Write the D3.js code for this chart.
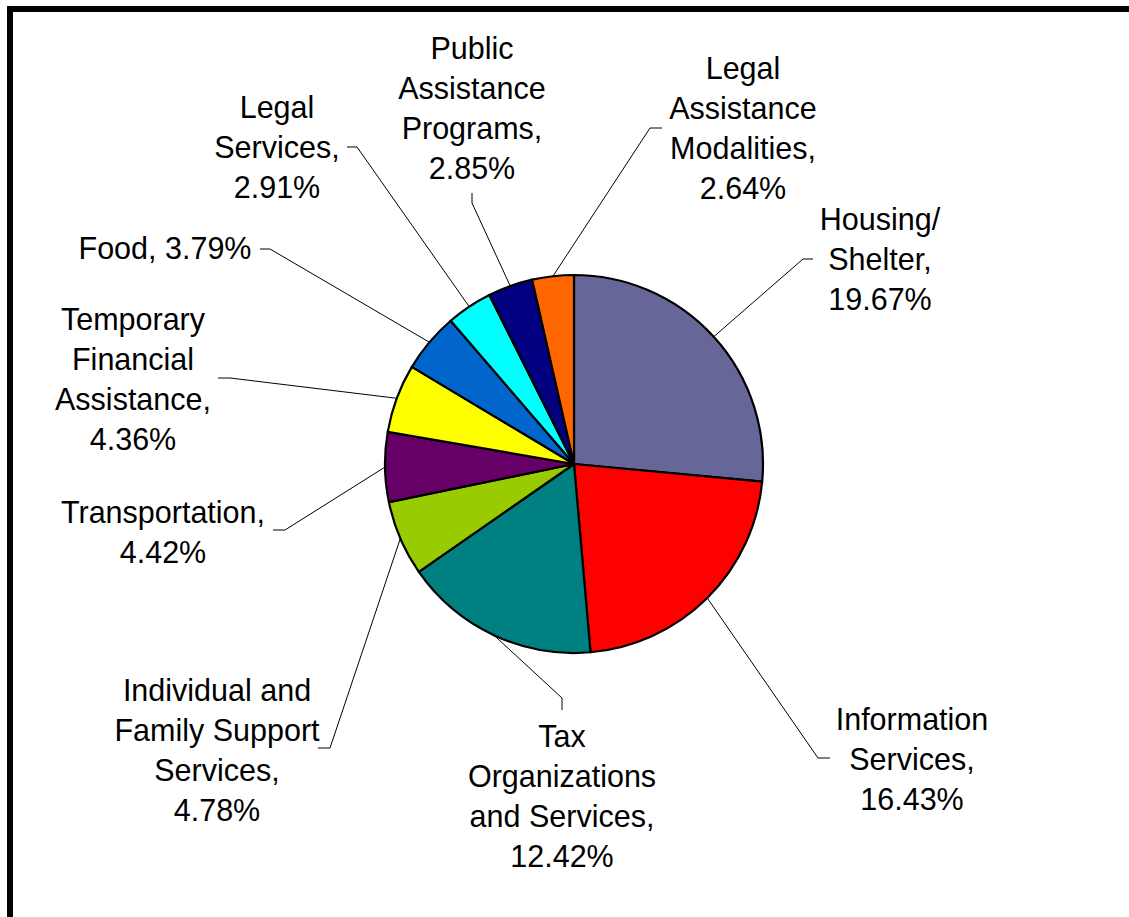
<!DOCTYPE html>
<html>
<head>
<meta charset="utf-8">
<script src="https://cdn.jsdelivr.net/npm/d3@7"></script>
<style>
  html, body { margin: 0; padding: 0; background: #fff; overflow: hidden; }
  text { font-family: "Liberation Sans", Arial, sans-serif; }
</style>
</head>
<body>
<div id="grafico"></div>
<script>
// dados ----------------------------------------------------------------------
const categorias = [
  ["Housing/", "Shelter,"],
  ["Information", "Services,"],
  ["Tax", "Organizations", "and Services,"],
  ["Individual and", "Family Support", "Services,"],
  ["Transportation,"],
  ["Temporary", "Financial", "Assistance,"],
  ["Food, "],
  ["Legal", "Services,"],
  ["Public", "Assistance", "Programs,"],
  ["Legal", "Assistance", "Modalities,"]
];
const valores = [19.67, 16.43, 12.42, 4.78, 4.42, 4.36, 3.79, 2.91, 2.85, 2.64];
const cores = ["#666699", "#ff0000", "#008080", "#99cc00", "#660066",
               "#ffff00", "#0066cc", "#00ffff", "#000080", "#ff6600"];

// layout dos rótulos (posição manual, como no Excel) -------------------------
// cx = centro do texto, y0 = 1a linha de base, ancora = fim da linha guia, fim = traço curto
const rotulos = [
  { cx: 880, y0: 230, ancora: [803, 259], fim: [813, 259] },
  { cx: 912, y0: 730, ancora: [818, 758], fim: [830, 758] },
  { cx: 562, y0: 747, ancora: [562, 698], fim: [562, 710] },
  { cx: 217, y0: 701, ancora: [330, 748], fim: [318, 748] },
  { cx: 163, y0: 523, ancora: [285, 530], fim: [273, 530] },
  { cx: 133, y0: 330, ancora: [230, 378], fim: [218, 378] },
  { cx: 165, y0: 259, ancora: [270, 249], fim: [260, 249], linha: true },
  { cx: 277, y0: 118, ancora: [357, 147], fim: [347, 147] },
  { cx: 472, y0: 59,  ancora: [472, 203], fim: [472, 193] },
  { cx: 743, y0: 79,  ancora: [650, 128], fim: [662, 128] }
];

const largura = 1129, altura = 917;
const centro = [574, 464], raio = 189;
const entrelinha = 40;

const svg = d3.select("#grafico").append("svg")
  .attr("width", largura)
  .attr("height", altura)
  .attr("viewBox", [0, 0, largura, altura]);

// moldura
svg.append("rect")
  .attr("x", 10).attr("y", 9)
  .attr("width", 1300).attr("height", 1100)
  .attr("fill", "none")
  .attr("stroke", "#000")
  .attr("stroke-width", 6);

const pie = d3.pie().sort(null).value(d => d)(valores);
const arco = d3.arc().innerRadius(0).outerRadius(raio);

const g = svg.append("g").attr("transform", `translate(${centro})`);

// fatias
g.selectAll("path")
  .data(pie)
  .join("path")
    .attr("d", arco)
    .attr("fill", (d, i) => cores[i])
    .attr("stroke", "#000")
    .attr("stroke-width", 2.2)
    .attr("stroke-linejoin", "round");

// linhas guia
const pontoBorda = d => {
  const a = (d.startAngle + d.endAngle) / 2;
  return [centro[0] + raio * Math.sin(a), centro[1] - raio * Math.cos(a)];
};

svg.append("g")
  .attr("fill", "none")
  .attr("stroke", "#000")
  .attr("stroke-width", 1)
  .selectAll("path")
  .data(pie)
  .join("path")
    .attr("d", (d, i) => d3.line()([pontoBorda(d), rotulos[i].ancora, rotulos[i].fim]));

// textos
const txt = svg.append("g")
  .attr("font-size", 30.5)
  .attr("fill", "#000")
  .attr("text-anchor", "middle")
  .selectAll("text")
  .data(pie)
  .join("text")
    .attr("x", (d, i) => rotulos[i].cx)
    .attr("y", (d, i) => rotulos[i].y0);

txt.each(function(d, i) {
  const el = d3.select(this);
  const pct = valores[i].toFixed(2) + "%";
  const linhas = rotulos[i].linha
    ? [categorias[i].join("") + pct]
    : [...categorias[i], pct];
  linhas.forEach((l, k) => {
    el.append("tspan")
      .attr("x", rotulos[i].cx)
      .attr("y", rotulos[i].y0 + k * entrelinha)
      .text(l);
  });
});
</script>
</body>
</html>
